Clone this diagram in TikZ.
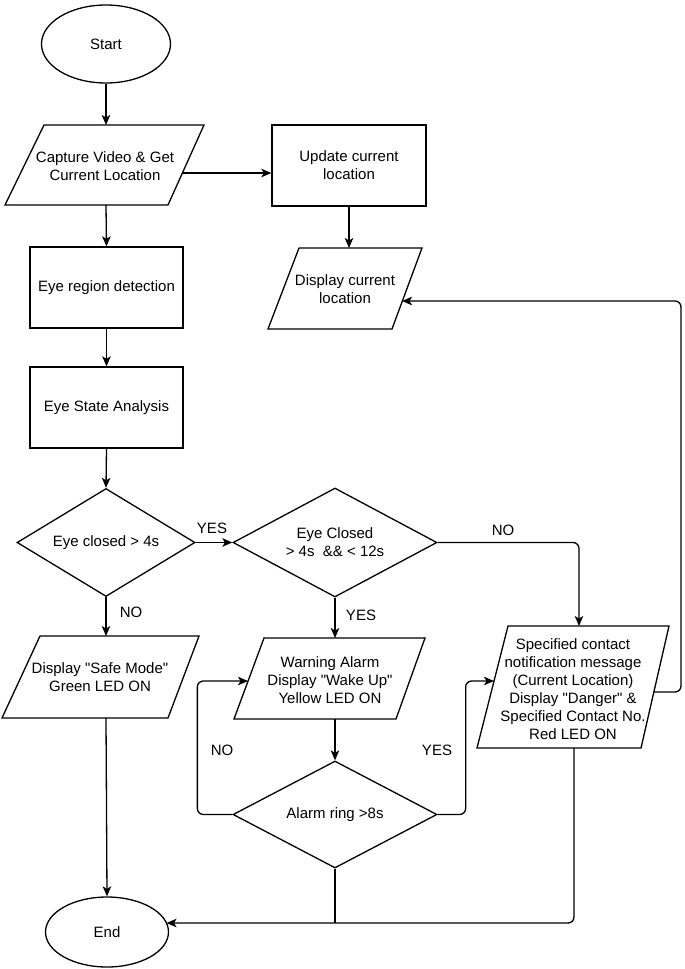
\documentclass[tikz,border=0pt]{standalone}
\usepackage{fontspec}
\setmainfont{Liberation Sans}[Ligatures=TeXOff]
\usetikzlibrary{shapes.geometric,arrows.meta,calc}
\tikzset{
  fnt/.style={font=\fontsize{15}{18}\selectfont},
  base/.style={fnt, draw, line width=1.3pt, align=center, inner sep=0pt},
  rect/.style={base, rectangle},
  ell/.style={base, ellipse},
  dia/.style={base, diamond, aspect=2},
  txt/.style={fnt, align=center, inner sep=0pt},
  lbl/.style={fnt, inner sep=0pt},
  shp/.style={draw, line width=1.3pt, line join=miter},
  arr/.style={line width=1.3pt, -{Stealth[length=10pt,width=8.5pt,inset=2.5pt]}, rounded corners=6pt},
  ln/.style={line width=1.3pt, rounded corners=6pt}
}
\begin{document}
\begin{tikzpicture}[x=1pt,y=-1pt]
\useasboundingbox (0,0) rectangle (685,969);

% Start
\node[ell, minimum width=129, minimum height=78] (start) at (106,44) {Start};

% Capture (parallelogram)
\draw[shp] (44,125) -- (204,125) -- (168,205) -- (5,205) -- cycle;
\node[txt] (cap) at (105,166) {Capture Video \& Get\\Current Location};
\coordinate (capT) at (106,125);
\coordinate (capB) at (106,205);
\coordinate (capR) at (182.4,173);

% Update current location
\node[rect, minimum width=154, minimum height=81] (upd) at (349,165.5) {Update current\\location};

% Display current location (parallelogram)
\draw[shp] (299,248) -- (422,248) -- (392,329) -- (268,329) -- cycle;
\node[txt] (disp) at (345,289.5) {Display current\\location};
\coordinate (dispT) at (349,248);
\coordinate (dispR) at (402,301);

% Eye region detection / Eye state analysis
\node[rect, minimum width=153, minimum height=81] (eyereg) at (106.5,287.5) {Eye region detection};
\node[rect, minimum width=153, minimum height=81] (esa) at (106.5,407.5) {Eye State Analysis};

% Decisions
\node[dia, minimum width=178, minimum height=108] (d1) at (106,542.5) {Eye closed > 4s};
\node[dia, minimum width=204, minimum height=109] (d2) at (335,542.5) {Eye Closed\\> 4s\ \ \&\& < 12s};

% Safe mode (parallelogram)
\draw[shp] (40,636) -- (199,636) -- (168,718) -- (2,718) -- cycle;
\node[txt] (safe) at (100,677) {Display "Safe Mode"\\Green LED ON};
\coordinate (safeT) at (106,636);
\coordinate (safeB) at (106,718);

% Warning (parallelogram)
\draw[shp] (264,638) -- (425,638) -- (396,719) -- (234,719) -- cycle;
\node[txt] (warn) at (330,680) {Warning Alarm\\Display "Wake Up"\\Yellow LED ON};
\coordinate (warnT) at (335,638);
\coordinate (warnB) at (335,719);
\coordinate (warnL) at (248,681);

% Alarm ring decision
\node[dia, minimum width=204, minimum height=107] (d3) at (335,814.5) {Alarm ring >8s};

% Specified contact (parallelogram)
\draw[shp] (508,626) -- (669,626) -- (641,748) -- (477,748) -- cycle;
\node[txt] (spec) at (573,689.5) {Specified contact\\notification message\\(Current Location)\\Display "Danger" \&\\Specified Contact No.\\Red LED ON};
\coordinate (specT) at (579,626);
\coordinate (specL) at (494,681);
\coordinate (specR) at (654,692);
\coordinate (specB) at (574,748);

% End
\node[ell, minimum width=123, minimum height=70] (end) at (107,932) {End};
\coordinate (endR) at (166.5,923);

% Connectors
\draw[arr] (start.south) -- (capT);
\draw[arr] (capB) -- (eyereg.north);
\draw[arr] (capR) -- (capR -| upd.west);
\draw[arr] (upd.south) -- (dispT);
\draw[arr] (eyereg.south) -- (esa.north);
\draw[arr] (esa.south) -- (d1.north);
\draw[arr] (d1.east) -- (d2.west);
\draw[arr] (d1.south) -- (safeT);
\draw[arr] (d2.south) -- (warnT);
\draw[arr] (d2.east) -| (specT);
\draw[arr] (warnB) -- (d3.north);
\draw[arr] (d3.west) -- ++(-35,0) |- (warnL);
\draw[arr] (d3.east) -- ++(28,0) |- (specL);
\draw[arr] (specR) -- ++(27,0) |- (dispR);
\draw[arr] (safeB) -- (end.north);
\draw[ln] (d3.south) -- (d3.south |- endR);
\draw[arr] (specB) |- (endR);

% Labels
\node[lbl] (lyes1) at (212,528) {YES};
\node[lbl] (lno1) at (131,612) {NO};
\node[lbl] (lyes2) at (361,615) {YES};
\node[lbl] (lno2) at (503,530) {NO};
\node[lbl] (lno3) at (222,750) {NO};
\node[lbl] (lyes3) at (437,750) {YES};
\end{tikzpicture}
\end{document}
